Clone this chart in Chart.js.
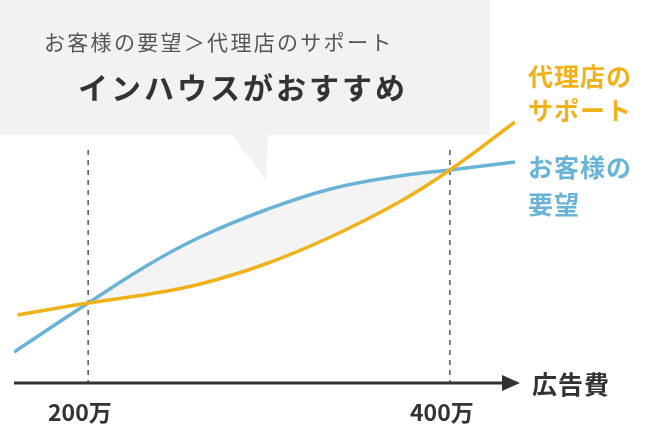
<!DOCTYPE html>
<html><head><meta charset="utf-8">
<script src="https://cdn.jsdelivr.net/npm/chart.js@4"></script>
<style>
body{margin:0;width:646px;height:434px;background:#fff;position:relative;overflow:hidden;font-family:"Noto Sans CJK JP",sans-serif}
#wrap{position:absolute;left:0;top:0;width:646px;height:434px}
.t{position:absolute;white-space:nowrap;line-height:1}
</style></head><body>
<div id="wrap"><canvas id="c" width="646" height="434"></canvas></div>
<div class="t" style="left:44px;top:31px;font-size:21px;color:#555;letter-spacing:2.3px">お客様の要望＞代理店のサポート</div>
<div class="t" style="left:78px;top:71px;font-size:30px;font-weight:bold;color:#333;letter-spacing:3px">インハウスがおすすめ</div>
<div class="t" style="left:528px;top:58px;font-size:25px;font-weight:bold;color:#f0b21a;line-height:34px;letter-spacing:1px">代理店の<br>サポート</div>
<div class="t" style="left:528px;top:148px;font-size:25px;font-weight:bold;color:#6bb3d6;line-height:37px;letter-spacing:1px">お客様の<br>要望</div>
<div class="t" style="left:532px;top:371px;font-size:25px;font-weight:bold;color:#333;letter-spacing:1px">広告費</div>
<div class="t" style="left:48px;top:400px;font-size:23px;font-weight:bold;color:#333">200万</div>
<div class="t" style="left:410px;top:400px;font-size:23px;font-weight:bold;color:#333">400万</div>
<script>
const tickValues=[200,400];
const blueX=[159,200,234,262,298,334,372,400,436];
const blueY=[31,80,119,146,173,194,207,213,221];
const orangeX=[161,200,234,262,298,334,372,400,436];
const orangeY=[68,80,89,99,119,146,181,213,261];
const pts=(xs,ys)=>xs.map((x,i)=>({x,y:ys[i]}));
const deco={id:'deco',
beforeDatasetsDraw(ch){const c=ch.ctx;
 c.save();c.fillStyle='#f2f2f2';c.beginPath();c.moveTo(0,0);c.lineTo(490,0);c.lineTo(490,135);c.lineTo(268,135);c.lineTo(266,180);c.lineTo(232,135);c.lineTo(0,135);c.closePath();c.fill();
 const xs=ch.scales.x,ys=ch.scales.y;
 c.strokeStyle='#555';c.lineWidth=1.5;c.setLineDash([5,5]);
 tickValues.forEach(v=>{const px=xs.getPixelForValue(v);c.beginPath();c.moveTo(px,150);c.lineTo(px,ys.getPixelForValue(0));c.stroke();});
 c.setLineDash([]);const y0=ys.getPixelForValue(0);
 c.strokeStyle='#333';c.lineWidth=3;c.beginPath();c.moveTo(14,y0);c.lineTo(505,y0);c.stroke();
 c.fillStyle='#333';c.beginPath();c.moveTo(520,y0);c.lineTo(502,y0-8);c.lineTo(502,y0+8);c.closePath();c.fill();
 c.restore();}};
new Chart(document.getElementById('c'),{type:'line',
data:{datasets:[
 {data:pts(orangeX,orangeY),borderColor:'#f0b21a',borderWidth:3.5,pointRadius:0,fill:false,tension:0.4},
 {data:pts(blueX,blueY),borderColor:'#6bb3d6',borderWidth:3.5,pointRadius:0,tension:0.4,fill:{target:0,above:'#f4f4f4',below:'rgba(0,0,0,0)'}}
]},
options:{responsive:false,animation:false,layout:{padding:{left:14,right:131,top:0,bottom:51}},
 plugins:{legend:{display:false},tooltip:{enabled:false}},
 scales:{x:{type:'linear',min:159,max:436,display:false},y:{min:0,max:383,display:false}}},
plugins:[deco]});
</script></body></html>
